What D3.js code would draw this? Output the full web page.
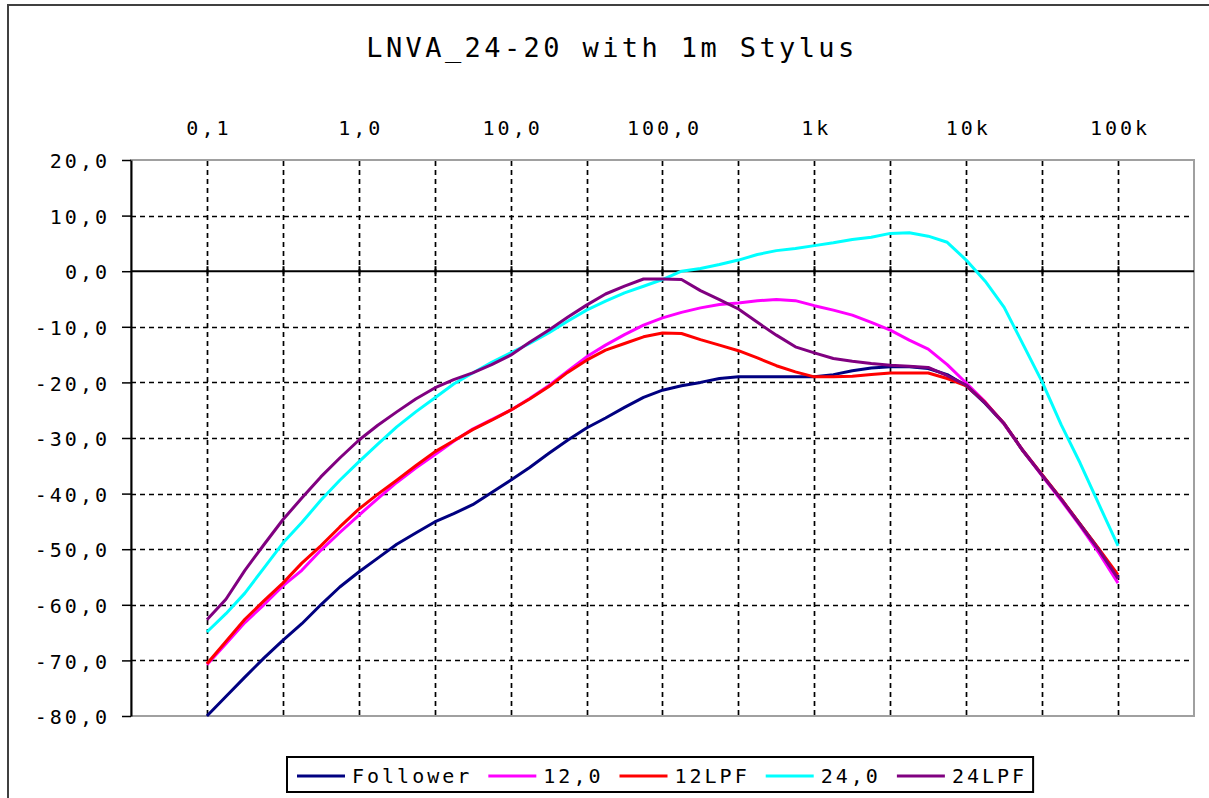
<!DOCTYPE html>
<html>
<head>
<meta charset="utf-8">
<title>LNVA_24-20 with 1m Stylus</title>
<script src="https://cdn.jsdelivr.net/npm/d3@7"></script>
<style>
	body { margin: 0; background: #fff; }
	svg text { font-family: "DejaVu Sans Mono", monospace; fill: #000; }
</style>
</head>
<body>
<svg id="chart" width="1209" height="798"></svg>
<script>
// Frequency points (1/8 decade steps)
var freqs = [0.1, 0.1334, 0.1778, 0.2371, 0.3162, 0.4217, 0.5623, 0.7499,
	1, 1.334, 1.778, 2.371, 3.162, 4.217, 5.623, 7.499,
	10, 13.34, 17.78, 23.71, 31.62, 42.17, 56.23, 74.99,
	100, 133.4, 177.8, 237.1, 316.2, 421.7, 562.3, 749.9,
	1000, 1334, 1778, 2371, 3162, 4217, 5623, 7499,
	10000, 13335, 17783, 23714, 31623, 42170, 56234, 74989, 100000];

// Levels (dB)
var follower = [-80.0, -76.5, -73.0, -69.6, -66.4, -63.4, -60.0, -56.8,
	-54.1, -51.6, -49.1, -47.1, -45.1, -43.6, -42.0, -39.8,
	-37.6, -35.3, -32.8, -30.4, -28.2, -26.4, -24.5, -22.7,
	-21.4, -20.6, -20.0, -19.3, -19.0, -19.0, -19.0, -19.0,
	-19.0, -18.6, -17.9, -17.4, -17.2, -17.2, -17.5, -18.6,
	-20.6, -23.8, -27.5, -32.4, -36.7, -41.0, -45.5, -50.1, -55.0];

var twelve = [-70.8, -67.0, -63.2, -60.0, -56.6, -53.8, -50.2, -47.0,
	-43.9, -40.9, -38.0, -35.4, -33.0, -30.6, -28.4, -26.7,
	-25.0, -22.9, -20.6, -18.0, -15.4, -13.3, -11.4, -9.7,
	-8.4, -7.4, -6.6, -6.0, -5.7, -5.3, -5.1, -5.3,
	-6.2, -7.0, -7.9, -9.2, -10.6, -12.4, -14.0, -16.8,
	-20.1, -23.5, -27.5, -32.3, -36.8, -41.2, -45.8, -50.7, -56.1];

var twelveLpf = [-70.6, -66.6, -62.6, -59.3, -56.1, -52.5, -49.4, -46.0,
	-42.8, -40.1, -37.6, -35.0, -32.5, -30.5, -28.5, -26.8,
	-25.0, -23.0, -20.8, -18.2, -16.0, -14.2, -13.0, -11.8,
	-11.1, -11.2, -12.3, -13.3, -14.3, -15.6, -17.0, -18.1,
	-19.0, -19.0, -18.9, -18.6, -18.3, -18.3, -18.3, -19.3,
	-20.6, -23.6, -27.4, -32.3, -36.6, -40.9, -45.5, -50.0, -54.6];

var twentyFour = [-64.9, -61.6, -57.9, -53.4, -48.9, -45.2, -41.2, -37.6,
	-34.3, -31.1, -28.0, -25.3, -22.8, -20.3, -18.3, -16.4,
	-14.7, -13.0, -11.1, -9.0, -7.0, -5.4, -3.9, -2.7,
	-1.5, 0.0, 0.5, 1.2, 2.0, 3.0, 3.7, 4.1,
	4.6, 5.1, 5.7, 6.1, 6.8, 6.9, 6.3, 5.2,
	2.0, -1.8, -6.5, -13.2, -19.9, -27.6, -34.5, -42.0, -49.4];

var twentyFourLpf = [-62.7, -59.0, -53.8, -49.2, -44.7, -40.8, -37.0, -33.6,
	-30.4, -27.7, -25.3, -23.0, -21.0, -19.5, -18.3, -16.8,
	-15.1, -12.8, -10.6, -8.3, -6.1, -4.1, -2.7, -1.4,
	-1.4, -1.5, -3.5, -5.1, -6.8, -9.2, -11.5, -13.6,
	-14.7, -15.7, -16.2, -16.6, -16.9, -17.1, -17.3, -18.8,
	-20.5, -23.7, -27.4, -32.3, -36.7, -41.0, -45.6, -50.2, -55.3];

var seriesNames = ["Follower", "12,0", "12LPF", "24,0", "24LPF"];
var seriesColors = ["#000080", "#ff00ff", "#ff0000", "#00ffff", "#800080"];
var seriesValues = [follower, twelve, twelveLpf, twentyFour, twentyFourLpf];

// Axes
var xTicks = [0.1, 1, 10, 100, 1000, 10000, 100000];
var xTickLabels = ["0,1", "1,0", "10,0", "100,0", "1k", "10k", "100k"];
var xGrid = [0.1, 0.3162, 1, 3.162, 10, 31.62, 100, 316.2, 1000, 3162, 10000, 31623, 100000];
var yTicks = [20, 10, 0, -10, -20, -30, -40, -50, -60, -70, -80];
var yTickLabels = ["20,0", "10,0", "0,0", "-10,0", "-20,0", "-30,0", "-40,0", "-50,0", "-60,0", "-70,0", "-80,0"];

var svg = d3.select("#chart");

var plot = { left: 131, top: 160, right: 1194, bottom: 716 };

var x = d3.scaleLog()
	.domain([0.031623, 316228])
	.range([plot.left, plot.right]);

var y = d3.scaleLinear()
	.domain([-80, 20])
	.range([plot.bottom, plot.top]);

// Outer frame
svg.append("rect")
	.attr("x", 8)
	.attr("y", 5)
	.attr("width", 1230)
	.attr("height", 830)
	.attr("fill", "#fff")
	.attr("stroke", "#404040")
	.attr("stroke-width", 2);

// Title
svg.append("text")
	.attr("x", 612)
	.attr("y", 57)
	.attr("text-anchor", "middle")
	.attr("font-size", 27)
	.attr("letter-spacing", 3.4)
	.text("LNVA_24-20 with 1m Stylus");

// Plot area
svg.append("rect")
	.attr("x", plot.left)
	.attr("y", plot.top)
	.attr("width", plot.right - plot.left)
	.attr("height", plot.bottom - plot.top)
	.attr("fill", "#fff")
	.attr("stroke", "#a0a0a0")
	.attr("stroke-width", 2);

// Grid
svg.append("g")
	.selectAll("line")
	.data(xGrid)
	.join("line")
	.attr("x1", d => Math.round(x(d)) + 0.5)
	.attr("x2", d => Math.round(x(d)) + 0.5)
	.attr("y1", plot.top + 1)
	.attr("y2", plot.bottom - 1)
	.attr("stroke", "#000")
	.attr("stroke-width", 1.7)
	.attr("stroke-dasharray", "5,4");

svg.append("g")
	.selectAll("line")
	.data(yTicks.filter(d => d != 0 && d != 20 && d != -80))
	.join("line")
	.attr("x1", plot.left)
	.attr("x2", plot.right - 1)
	.attr("y1", d => Math.round(y(d)) + 0.5)
	.attr("y2", d => Math.round(y(d)) + 0.5)
	.attr("stroke", "#000")
	.attr("stroke-width", 1.7)
	.attr("stroke-dasharray", "5,4");

// Zero line with crossing ticks
var zeroAxis = svg.append("g");
zeroAxis.append("line")
	.attr("x1", plot.left)
	.attr("x2", plot.right)
	.attr("y1", y(0))
	.attr("y2", y(0))
	.attr("stroke", "#000")
	.attr("stroke-width", 2);
zeroAxis.selectAll(".tick")
	.data(xGrid)
	.join("line")
	.attr("class", "tick")
	.attr("x1", d => Math.round(x(d)) + 0.5)
	.attr("x2", d => Math.round(x(d)) + 0.5)
	.attr("y1", y(0) - 5)
	.attr("y2", y(0) + 5)
	.attr("stroke", "#000")
	.attr("stroke-width", 2);

// Top labels
var xAxis = svg.append("g")
	.attr("transform", "translate(0,135)")
	.call(d3.axisTop(x)
		.tickValues(xTicks)
		.tickFormat((d, i) => xTickLabels[i])
		.tickSize(0)
		.tickPadding(0));
xAxis.select(".domain").remove();
xAxis.attr("font-family", null)
	.attr("font-size", 20)
	.attr("letter-spacing", 3);
xAxis.selectAll("text").attr("dx", 1.5);

// Left axis
var yAxis = svg.append("g")
	.attr("transform", "translate(" + plot.left + ",0)")
	.call(d3.axisLeft(y)
		.tickValues(yTicks)
		.tickFormat((d, i) => yTickLabels[i])
		.tickSize(9)
		.tickSizeOuter(0)
		.tickPadding(12));
yAxis.attr("font-family", null)
	.attr("font-size", 20)
	.attr("letter-spacing", 3);
yAxis.select(".domain")
	.attr("stroke", "#000")
	.attr("stroke-width", 2);
yAxis.selectAll(".tick line")
	.attr("stroke", "#000")
	.attr("stroke-width", 1.5);
yAxis.selectAll("text").attr("dy", "0.38em");

// Series
var line = d3.line()
	.x((d, i) => x(freqs[i]))
	.y(d => y(d));

svg.append("g")
	.selectAll("path")
	.data(seriesValues)
	.join("path")
	.attr("d", d => line(d))
	.attr("fill", "none")
	.attr("stroke", (d, i) => seriesColors[i])
	.attr("stroke-width", 3)
	.attr("stroke-linejoin", "round");

// Legend
var legend = svg.append("g");
var legendBox = legend.append("rect")
	.attr("fill", "#fff")
	.attr("stroke", "#000")
	.attr("stroke-width", 2);

var lx = 0;
seriesNames.forEach(function(name, i) {
	var item = legend.append("g");
	item.append("line")
		.attr("x1", lx)
		.attr("x2", lx + 48)
		.attr("y1", 0)
		.attr("y2", 0)
		.attr("stroke", seriesColors[i])
		.attr("stroke-width", 3);
	var t = item.append("text")
		.attr("x", lx + 55)
		.attr("y", 7)
		.attr("font-size", 20)
		.attr("letter-spacing", 3)
		.text(name);
	lx += 55 + t.node().getComputedTextLength() + 16;
});
var legendWidth = lx - 16;
var legendLeft = Math.round((plot.left + plot.right) / 2 - legendWidth / 2);
legend.attr("transform", "translate(" + legendLeft + ",776)");
legendBox.attr("x", -10)
	.attr("y", -19)
	.attr("width", legendWidth + 16)
	.attr("height", 35);
</script>
</body>
</html>
